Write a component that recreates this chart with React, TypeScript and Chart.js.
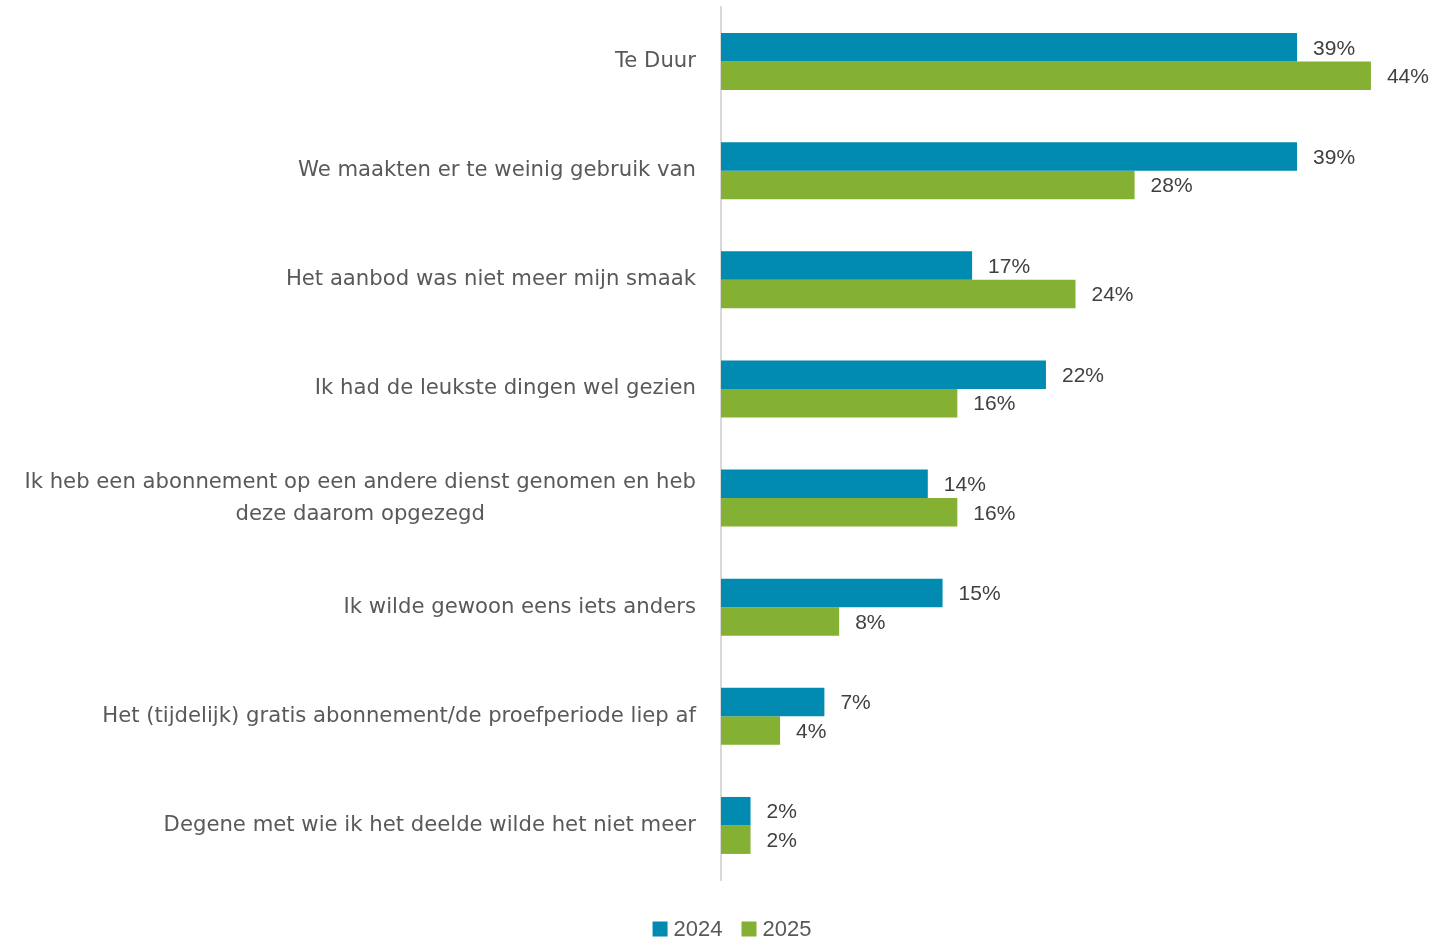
import React, { useEffect, useRef } from "react";
import { Chart, registerables } from "chart.js";

Chart.register(...registerables);

const categories: string[][] = [
  ["Te Duur"],
  ["We maakten er te weinig gebruik van"],
  ["Het aanbod was niet meer mijn smaak"],
  ["Ik had de leukste dingen wel gezien"],
  ["Ik heb een abonnement op een andere dienst genomen en heb", "deze daarom opgezegd"],
  ["Ik wilde gewoon eens iets anders"],
  ["Het (tijdelijk) gratis abonnement/de proefperiode liep af"],
  ["Degene met wie ik het deelde wilde het niet meer"],
];
const seriesNames = ["2024", "2025"];
const values2024 = [39, 39, 17, 22, 14, 15, 7, 2];
const values2025 = [44, 28, 24, 16, 16, 8, 4, 2];
const colors = ["#028bb0", "#84b034"];

const labelFont = '21.2px "DejaVu Sans"';
const valueFont = '21px "Liberation Sans"';
const legendFont = '22px "Liberation Sans"';

const drawPlugin = {
  id: "customDraw",
  afterDatasetsDraw(chart: any) {
    const ctx = chart.ctx as CanvasRenderingContext2D;
    const yScale = chart.scales.y;
    const area = chart.chartArea;
    ctx.save();
    // category labels
    ctx.font = labelFont;
    ctx.fillStyle = "#595959";
    ctx.textBaseline = "middle";
    ctx.textAlign = "center";
    const lineH = 32;
    categories.forEach((lines, i) => {
      const cy = yScale.getPixelForValue(i);
      const maxW = Math.max(...lines.map((l) => ctx.measureText(l).width));
      const right = area.left - 25;
      lines.forEach((l, j) => {
        const ly = cy + (j - (lines.length - 1) / 2) * lineH;
        ctx.fillText(l, right - maxW / 2, ly);
      });
    });
    // value labels
    ctx.font = valueFont;
    ctx.fillStyle = "#404040";
    ctx.textAlign = "left";
    chart.data.datasets.forEach((ds: any, di: number) => {
      const meta = chart.getDatasetMeta(di);
      meta.data.forEach((bar: any, i: number) => {
        ctx.fillText(ds.data[i] + "%", bar.x + 16, bar.y + 1.5);
      });
    });
    // legend
    ctx.font = legendFont;
    const box = 15;
    const gapBoxText = 6;
    const gapItems = 19;
    const widths = seriesNames.map((n) => box + gapBoxText + ctx.measureText(n).width);
    const total = widths.reduce((a, b) => a + b, 0) + gapItems * (seriesNames.length - 1);
    let x = 732 - total / 2;
    const ly = 929;
    seriesNames.forEach((n, i) => {
      ctx.fillStyle = colors[i];
      ctx.fillRect(x, ly - box / 2, box, box);
      ctx.fillStyle = "#595959";
      ctx.fillText(n, x + box + gapBoxText, ly + 1);
      x += widths[i] + gapItems;
    });
    ctx.restore();
  },
};

export default function App() {
  const ref = useRef<HTMLCanvasElement>(null);
  useEffect(() => {
    if (!ref.current) return;
    const chart = new Chart(ref.current, {
      type: "bar",
      data: {
        labels: categories.map((c) => c.join(" ")),
        datasets: [
          { label: seriesNames[0], data: values2024, backgroundColor: colors[0] },
          { label: seriesNames[1], data: values2025, backgroundColor: colors[1] },
        ],
      },
      options: {
        indexAxis: "y",
        animation: false,
        responsive: true,
        maintainAspectRatio: false,
        layout: { padding: { left: 713, right: 17, top: 7, bottom: 57 } },
        datasets: { bar: { categoryPercentage: 0.522, barPercentage: 1 } },
        scales: {
          x: { display: false, min: 0, max: 48 },
          y: {
            display: true,
            ticks: { display: false },
            grid: { display: false },
            border: { display: true, color: "#d9d9d9", width: 2 },
          },
        },
        plugins: { legend: { display: false }, tooltip: { enabled: false } },
      },
      plugins: [drawPlugin],
    });
    return () => chart.destroy();
  }, []);
  return (
    <div style={{ position: "absolute", left: 0, top: 0, width: 1447, height: 937 }}>
      <canvas ref={ref} />
    </div>
  );
}
